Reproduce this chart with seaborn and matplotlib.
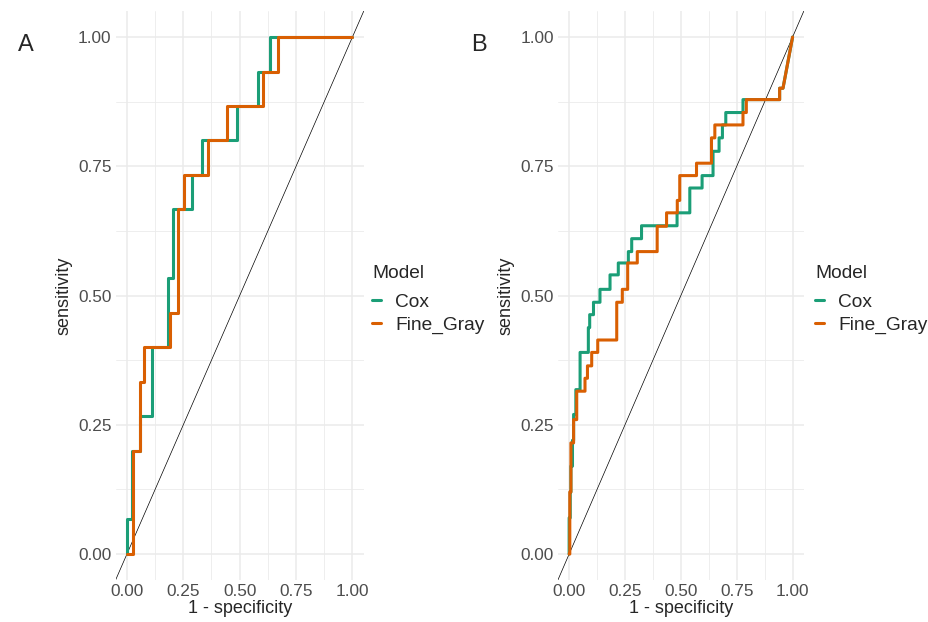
import numpy as np
import pandas as pd
import matplotlib
matplotlib.use("Agg")
import matplotlib.pyplot as plt
from matplotlib.ticker import MultipleLocator
import seaborn as sns

# ROC knots: at each fpr the curve climbs to the given tpr
cox_a_fpr = [0.0, 0.021, 0.058, 0.109, 0.183, 0.203, 0.287, 0.334, 0.489, 0.582, 0.634, 1.0]
cox_a_tpr = [0.067, 0.2, 0.267, 0.4, 0.533, 0.667, 0.733, 0.8, 0.867, 0.933, 1.0, 1.0]
fg_a_fpr = [0.028, 0.058, 0.077, 0.191, 0.228, 0.254, 0.361, 0.445, 0.605, 0.668, 1.0]
fg_a_tpr = [0.2, 0.333, 0.4, 0.467, 0.667, 0.733, 0.8, 0.867, 0.933, 1.0, 1.0]

cox_b_fpr = [0.0, 0.005, 0.008, 0.015, 0.02, 0.030, 0.049, 0.086, 0.092, 0.109, 0.138,
             0.183, 0.220, 0.265, 0.280, 0.324, 0.483, 0.540, 0.595, 0.644, 0.671,
             0.686, 0.701, 0.778, 0.942, 0.957, 1.0]
cox_b_tpr = [0.07, 0.12, 0.17, 0.22, 0.27, 0.318, 0.39, 0.438, 0.463, 0.487, 0.512,
             0.540, 0.563, 0.585, 0.610, 0.635, 0.660, 0.708, 0.732, 0.779, 0.805,
             0.830, 0.854, 0.879, 0.901, 0.901, 1.0]
fg_b_fpr = [0.003, 0.008, 0.02, 0.034, 0.071, 0.082, 0.101, 0.128, 0.213, 0.238, 0.262,
            0.305, 0.394, 0.436, 0.484, 0.495, 0.570, 0.637, 0.652, 0.778, 0.793,
            0.942, 0.957, 1.0]
fg_b_tpr = [0.12, 0.215, 0.26, 0.315, 0.340, 0.364, 0.390, 0.414, 0.487, 0.512, 0.563,
            0.585, 0.634, 0.660, 0.684, 0.732, 0.756, 0.805, 0.830, 0.854, 0.879,
            0.901, 0.901, 1.0]

models = ["Cox", "Fine_Gray"]
colors = {"Cox": "#1B9E77", "Fine_Gray": "#D95F02"}
ticks = [0.0, 0.25, 0.5, 0.75, 1.0]
tick_labels = ["0.00", "0.25", "0.50", "0.75", "1.00"]


def stair(fpr, tpr):
    # turn knots into the ROC path; last point joined straight
    xs, ys = [0.0], [0.0]
    for x, y in zip(fpr[:-1], tpr[:-1]):
        xs += [x, x]
        ys += [ys[-1], y]
    xs.append(fpr[-1])
    ys.append(tpr[-1])
    return xs, ys


def roc_frame(curves):
    rows = []
    for name, (fpr, tpr) in zip(models, curves):
        xs, ys = stair(fpr, tpr)
        rows.append(pd.DataFrame({"fpr": xs, "tpr": ys, "Model": name}))
    return pd.concat(rows, ignore_index=True)


sns.set_style("white")
plt.rcParams["font.family"] = ["Liberation Sans", "DejaVu Sans"]

fig = plt.figure(figsize=(9.29, 6.22), dpi=100)
ax_a = fig.add_axes([0.1245, 0.0677, 0.267, 0.9143])
ax_b = fig.add_axes([0.6006, 0.0677, 0.2646, 0.9143])

panels = [
    (ax_a, roc_frame([(cox_a_fpr, cox_a_tpr), (fg_a_fpr, fg_a_tpr)]), "A", 18, 372),
    (ax_b, roc_frame([(cox_b_fpr, cox_b_tpr), (fg_b_fpr, fg_b_tpr)]), "B", 471, 815),
]

for ax, df, letter, lx, legx in panels:
    ax.set_axisbelow(True)
    ax.xaxis.set_minor_locator(MultipleLocator(0.125))
    ax.yaxis.set_minor_locator(MultipleLocator(0.125))
    ax.grid(which="major", color="#EBEBEB", lw=1.1)
    ax.grid(which="minor", color="#EBEBEB", lw=0.6)
    ax.axline((0, 0), (1, 1), color="black", lw=0.5, zorder=1)
    sns.lineplot(data=df, x="fpr", y="tpr", hue="Model", palette=colors,
                 sort=False, estimator=None, linewidth=2.2, ax=ax, zorder=3)
    ax.set_xlim(-0.05, 1.05)
    ax.set_ylim(-0.05, 1.05)
    ax.set_xticks(ticks)
    ax.set_xticklabels(tick_labels)
    ax.set_yticks(ticks)
    ax.set_yticklabels(tick_labels)
    ax.tick_params(which="both", length=0, labelsize=12.4, labelcolor="#4D4D4D", pad=3)
    for s in ax.spines.values():
        s.set_visible(False)
    ax.set_xlabel("1 - specificity", fontsize=13, labelpad=1)
    ax.set_ylabel("sensitivity", fontsize=13, labelpad=4)
    handles, labels = ax.get_legend_handles_labels()
    ax.get_legend().remove()
    leg = fig.legend(handles, labels, title="Model", loc="upper left",
                     bbox_to_anchor=(legx / 929, 1 - 265 / 622), frameon=False,
                     fontsize=13.8, title_fontsize=13.8, handlelength=0.45,
                     handletextpad=0.75, labelspacing=0.32, borderpad=0, borderaxespad=0)
    leg._legend_box.align = "left"
    leg._legend_box.sep = 8
    fig.text(lx / 929, 1 - 45 / 622, letter, fontsize=17, va="center", ha="left")

fig.savefig("out.png", dpi=100)
